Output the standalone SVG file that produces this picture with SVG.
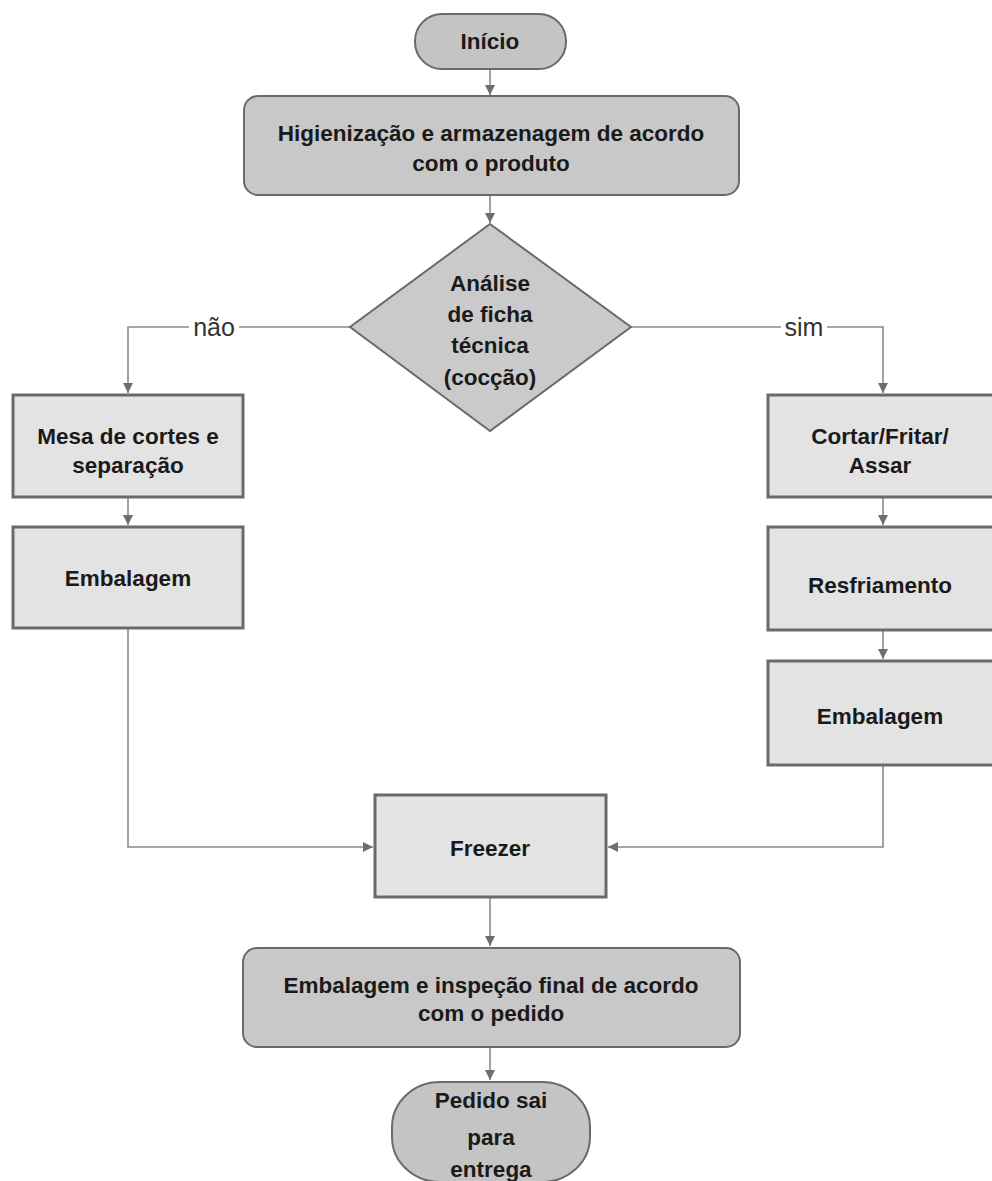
<svg xmlns="http://www.w3.org/2000/svg" width="992" height="1181" viewBox="0 0 992 1181">
<defs>
<style>
.term{fill:#c4c4c4;stroke:#6a6a6a;stroke-width:2}
.dark{fill:#c8c8c8;stroke:#6a6a6a;stroke-width:2}
.proc{fill:#e3e3e3;stroke:#6a6a6a;stroke-width:3}
.dec{fill:#cacaca;stroke:#6a6a6a;stroke-width:2}
.t{font-family:"Liberation Sans",Arial,sans-serif;font-weight:bold;font-size:22.5px;fill:#1a1a1a;text-anchor:middle}
.lbl{font-family:"Liberation Sans",Arial,sans-serif;font-size:25px;fill:#333;text-anchor:middle}
.c{fill:none;stroke:#8a8a8a;stroke-width:1.6}
</style>
<marker id="ah" viewBox="0 0 10 10" refX="10" refY="5" markerWidth="10" markerHeight="10" markerUnits="userSpaceOnUse" orient="auto">
<path d="M0,0 L10,5 L0,10 Z" fill="#6e6e6e"/>
</marker>
</defs>
<rect width="992" height="1181" fill="#ffffff"/>

<g id="connectors">
<path class="c" d="M490,69 V95" marker-end="url(#ah)"/>
<path class="c" d="M490,196 V223" marker-end="url(#ah)"/>
<path class="c" d="M350,327 H128 V393" marker-end="url(#ah)"/>
<path class="c" d="M631,327 H883 V393" marker-end="url(#ah)"/>
<path class="c" d="M128,498 V525" marker-end="url(#ah)"/>
<path class="c" d="M883,498 V525" marker-end="url(#ah)"/>
<path class="c" d="M883,631 V659" marker-end="url(#ah)"/>
<path class="c" d="M128,629 V847 H373" marker-end="url(#ah)"/>
<path class="c" d="M883,766 V847 H608" marker-end="url(#ah)"/>
<path class="c" d="M490,898 V946" marker-end="url(#ah)"/>
<path class="c" d="M490,1048 V1080" marker-end="url(#ah)"/>
<rect x="189" y="314" width="50" height="26" fill="#ffffff"/>
<text class="lbl" x="214" y="336">não</text>
<rect x="781" y="314" width="46" height="26" fill="#ffffff"/>
<text class="lbl" x="804" y="336">sim</text>
</g>

<g id="inicio">
<rect class="term" x="415" y="14" width="151" height="55" rx="27" ry="27"/>
<text class="t" x="490" y="49">Início</text>
</g>

<g id="higienizacao">
<rect class="dark" x="244" y="96" width="495" height="99" rx="14" ry="14"/>
<text class="t" x="491" y="141">Higienização e armazenagem de acordo</text>
<text class="t" x="491" y="171">com o produto</text>
</g>

<g id="analise">
<polygon class="dec" points="490,224 631,327 490,431 350,327"/>
<text class="t" x="490" y="291">Análise</text>
<text class="t" x="490" y="322">de ficha</text>
<text class="t" x="490" y="353">técnica</text>
<text class="t" x="490" y="385">(cocção)</text>
</g>

<g id="mesa">
<rect class="proc" x="13" y="395" width="230" height="102"/>
<text class="t" x="128" y="444">Mesa de cortes e</text>
<text class="t" x="128" y="473">separação</text>
</g>

<g id="embalagem-esq">
<rect class="proc" x="13" y="527" width="230" height="101"/>
<text class="t" x="128" y="586">Embalagem</text>
</g>

<g id="cortar">
<rect class="proc" x="768" y="395" width="232" height="102"/>
<text class="t" x="880" y="444">Cortar/Fritar/</text>
<text class="t" x="880" y="473">Assar</text>
</g>

<g id="resfriamento">
<rect class="proc" x="768" y="527" width="232" height="103"/>
<text class="t" x="880" y="593">Resfriamento</text>
</g>

<g id="embalagem-dir">
<rect class="proc" x="768" y="661" width="232" height="104"/>
<text class="t" x="880" y="724">Embalagem</text>
</g>

<g id="freezer">
<rect class="proc" x="375" y="795" width="231" height="102"/>
<text class="t" x="490" y="856">Freezer</text>
</g>

<g id="embalagem-final">
<rect class="dark" x="243" y="948" width="497" height="99" rx="14" ry="14"/>
<text class="t" x="491" y="993">Embalagem e inspeção final de acordo</text>
<text class="t" x="491" y="1021">com o pedido</text>
</g>

<g id="pedido">
<rect class="term" x="392" y="1082" width="198" height="100" rx="48" ry="45"/>
<text class="t" x="491" y="1108">Pedido sai</text>
<text class="t" x="491" y="1145">para</text>
<text class="t" x="491" y="1177">entrega</text>
</g>
</svg>
